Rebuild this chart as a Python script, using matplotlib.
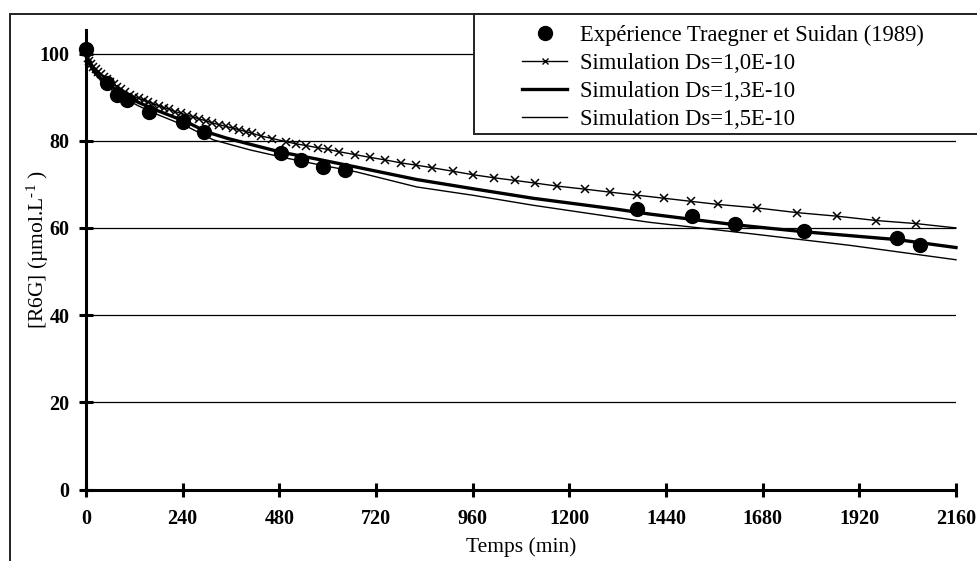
import matplotlib
matplotlib.use("Agg")
import matplotlib.pyplot as plt
from matplotlib.lines import Line2D
from matplotlib.patches import Rectangle

plt.rcParams['font.family'] = ['Liberation Serif', 'DejaVu Serif']
plt.rcParams['mathtext.fontset'] = 'custom'
plt.rcParams['mathtext.rm'] = 'Liberation Serif'
plt.rcParams['mathtext.it'] = 'Liberation Serif:italic'
plt.rcParams['mathtext.bf'] = 'Liberation Serif:bold'

# ---- data ----
exp_t = [0, 51, 76, 103, 157, 240, 294, 483, 534, 588, 643, 1369, 1505, 1611, 1783, 2014, 2070]
exp_y = [101.0, 93.2, 90.5, 89.3, 86.6, 84.3, 82.0, 77.2, 75.5, 73.9, 73.2, 64.3, 62.7, 60.9, 59.4, 57.6, 56.1]

sim10_t = [0, 4, 8, 13, 18, 24, 30, 37, 44, 52, 60, 69, 78, 88, 98, 109, 120, 131, 143, 155,
           167, 180, 193, 207, 221, 235, 250, 265, 281, 297, 313, 330, 347, 364, 381, 397, 413,
           434, 463, 496, 521, 546, 575, 602, 627, 669, 704, 743, 783, 820, 860, 911, 961, 1013,
           1064, 1114, 1169, 1238, 1302, 1369, 1436, 1502, 1568, 1665, 1766, 1864, 1962, 2060, 2160]
sim10_y = [100.3, 99.0, 98.3, 97.6, 97.0, 96.4, 95.8, 95.2, 94.7, 94.1, 93.5, 93.0, 92.4, 91.8,
           91.2, 90.6, 90.1, 89.7, 89.3, 88.9, 88.5, 88.0, 87.6, 87.2, 86.7, 86.3, 85.9, 85.5,
           85.0, 84.6, 84.1, 83.7, 83.3, 82.9, 82.5, 82.1, 81.7, 81.1, 80.5, 79.8, 79.3, 78.9,
           78.4, 78.0, 77.5, 76.8, 76.2, 75.6, 74.9, 74.4, 73.8, 73.0, 72.2, 71.5, 70.9, 70.3,
           69.6, 68.9, 68.2, 67.5, 66.8, 66.1, 65.4, 64.6, 63.5, 62.7, 61.7, 61.0, 60.0]

sim13_t = [0, 5, 10, 20, 35, 60, 93, 130, 175, 250, 300, 349, 407, 483, 573, 669, 821, 960,
           1110, 1317, 1398, 1614, 1785, 2016, 2160]
sim13_y = [100.5, 98.5, 97.5, 96.0, 94.5, 92.6, 90.6, 88.8, 87.0, 84.3, 82.0, 80.6, 79.2, 77.4,
           75.8, 74.0, 71.1, 69.0, 66.8, 64.3, 63.2, 60.7, 59.1, 57.3, 55.5]

sim15_t = [0, 5, 10, 20, 35, 60, 93, 130, 175, 250, 316, 407, 498, 573, 669, 821, 960, 1110,
           1250, 1398, 1648, 1897, 2160]
sim15_y = [100.5, 98.0, 97.0, 95.5, 94.0, 91.9, 89.9, 88.0, 86.1, 83.3, 80.2, 77.9, 76.0, 74.6,
           72.9, 69.4, 67.5, 65.2, 63.3, 61.3, 58.7, 56.0, 52.7]

x_ticks = [0, 240, 480, 720, 960, 1200, 1440, 1680, 1920, 2160]
y_ticks = [0, 20, 40, 60, 80, 100]
labels = ["Expérience Traegner et Suidan (1989)", "Simulation Ds=1,0E-10",
          "Simulation Ds=1,3E-10", "Simulation Ds=1,5E-10"]

W, H = 977, 561
fig = plt.figure(figsize=(W / 100, H / 100), dpi=100)
ax = fig.add_axes([86 / W, 1 - 489.5 / H, 870 / W, (489.5 - 30) / H])
ax.set_xlim(0, 2160)
ax.set_ylim(0, 105.4)

for yv in y_ticks[1:]:
    ax.axhline(yv, color='black', lw=0.9, zorder=1)

ax.plot(sim15_t, sim15_y, color='black', lw=1.0, zorder=3, clip_on=False)
ax.plot(sim13_t, sim13_y, color='black', lw=2.4, zorder=3, clip_on=False)
ax.plot(sim10_t, sim10_y, color='black', lw=1.0, marker='x', ms=5.5, mew=1.1,
        markevery=list(range(len(sim10_t) - 1)), zorder=4, clip_on=False)
ax.plot(exp_t, exp_y, ls='none', marker='o', ms=10, color='black', zorder=5, clip_on=False)

for s in ['top', 'right']:
    ax.spines[s].set_visible(False)
for s in ['left', 'bottom']:
    ax.spines[s].set_linewidth(2.2)
    ax.spines[s].set_zorder(6)

ax.set_xticks(x_ticks)
ax.set_yticks(y_ticks)
ax.set_xticklabels([str(v) for v in x_ticks])
ax.set_yticklabels([str(v) for v in y_ticks])
ax.tick_params(axis='both', direction='inout', length=10, width=2.2, labelsize=14.5)
ax.tick_params(axis='x', pad=9)
ax.tick_params(axis='y', pad=7)
for lab in ax.get_xticklabels() + ax.get_yticklabels():
    lab.set_fontweight('bold')

fig.text(521 / W, 1 - 547 / H, "Temps (min)", ha='center', va='center', fontsize=15.5)
fig.text(38 / W, 1 - 250 / H, r"[R6G] (µmol.L$^{\text{-1}}$ )", ha='center', va='center',
         rotation=90, fontsize=15.5)

# chart frame and legend box
fig.add_artist(Rectangle((10 / W, -0.1), 1.2, 1 - 14 / H + 0.1, transform=fig.transFigure,
                         fill=False, lw=1.4, edgecolor='#222222', clip_on=False))
fig.add_artist(Rectangle((474 / W, 1 - 134 / H), 0.6, 120 / H, transform=fig.transFigure,
                         facecolor='white', lw=1.4, edgecolor='#222222', clip_on=False, zorder=7))

handles = [
    Line2D([], [], ls='none', marker='o', ms=10, color='black'),
    Line2D([], [], color='black', lw=1.0, marker='x', ms=4, mew=1.0),
    Line2D([], [], color='black', lw=2.4),
    Line2D([], [], color='black', lw=1.0),
]
leg = fig.legend(handles, labels, loc='upper left', bbox_to_anchor=(522 / W, 1 - 25 / H),
                 frameon=False, fontsize=16.3, handlelength=2.0, handletextpad=0.55,
                 labelspacing=0.3, borderpad=0, borderaxespad=0, numpoints=1)
leg.set_zorder(8)

fig.savefig("out.png", dpi=100)
